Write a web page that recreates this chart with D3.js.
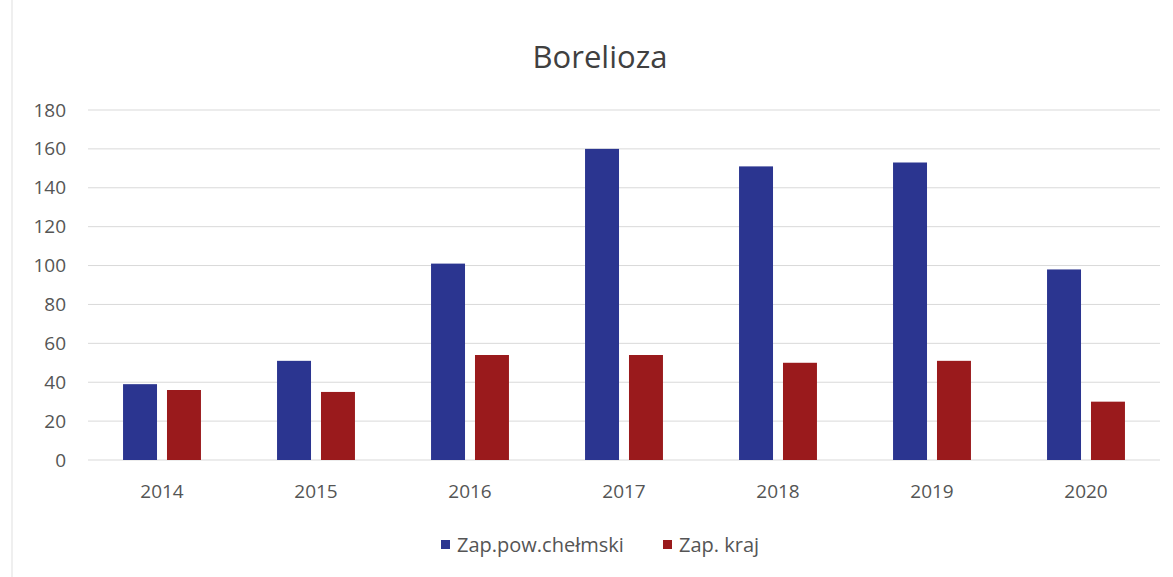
<!DOCTYPE html>
<html><head><meta charset="utf-8">
<script src="https://cdn.jsdelivr.net/npm/d3@7"></script>
<style>body{margin:0;background:#fff;}svg{display:block;}</style>
</head><body>
<svg id="c" width="1173" height="577"></svg>
<script>
const categories = ["2014","2015","2016","2017","2018","2019","2020"];
const seriesNames = ["Zap.pow.chełmski","Zap. kraj"];
const seriesBlue = [39, 51, 101, 160, 151, 153, 98];
const seriesRed = [36, 35, 54, 54, 50, 51, 30];
const yTicks = [0,20,40,60,80,100,120,140,160,180];
const colors = ["#2b3590","#9a1a1c"];

const svg = d3.select("#c");
const font = "'Open Sans', sans-serif";
const textColor = "#555555";

svg.append("rect").attr("x",12).attr("y",-2).attr("width",1175).attr("height",590)
  .attr("fill","#fff").attr("stroke","#e0e0e0");

const x0 = d3.scaleBand().domain(categories).range([85,1163]).paddingInner(0.494).paddingOuter(0.247);
const x1 = d3.scaleBand().domain(seriesNames).range([0,x0.bandwidth()]).paddingInner(0.227);
const y = d3.scaleLinear().domain([0,180]).range([460,110]);

// gridlines
svg.append("g").selectAll("line").data(yTicks).join("line")
  .attr("x1",88).attr("x2",1160)
  .attr("y1",d=>y(d)).attr("y2",d=>y(d))
  .attr("stroke","#d9d9d9").attr("stroke-width",1);

// y axis labels
const yAxis = d3.axisLeft(y).tickValues(yTicks).tickSize(0).tickPadding(0);
const ya = svg.append("g").attr("transform","translate(66,0)").call(yAxis);
ya.select(".domain").remove();
ya.selectAll("text").attr("font-family",font).attr("font-size",19).attr("fill",textColor);

// bars
const data = categories.map((c,i)=>({cat:c, vals:[seriesBlue[i], seriesRed[i]]}));
const groups = svg.append("g").selectAll("g").data(data).join("g")
  .attr("transform",d=>`translate(${x0(d.cat)},0)`);
groups.selectAll("rect").data(d=>d.vals.map((v,j)=>({name:seriesNames[j],v,j}))).join("rect")
  .attr("x",d=>x1(d.name)).attr("width",x1.bandwidth())
  .attr("y",d=>y(d.v)).attr("height",d=>y(0)-y(d.v))
  .attr("fill",d=>colors[d.j]);

// x axis labels
const xAxis = d3.axisBottom(x0).tickSize(0).tickPadding(0);
const xa = svg.append("g").attr("transform","translate(0,484)").call(xAxis);
xa.select(".domain").remove();
xa.selectAll("text").attr("font-family",font).attr("font-size",19).attr("fill",textColor);

// title
svg.append("text").attr("x",600).attr("y",68).attr("text-anchor","middle")
  .attr("font-family",font).attr("font-size",31).attr("fill","#404040").text("Borelioza");

// legend
const legendX = [441, 663];
const lg = svg.append("g").selectAll("g").data(seriesNames).join("g")
  .attr("transform",(d,i)=>`translate(${legendX[i]},540)`);
lg.append("rect").attr("width",9).attr("height",9).attr("fill",(d,i)=>colors[i]);
lg.append("text").attr("x",16).attr("y",12).attr("font-family",font).attr("font-size",20)
  .attr("fill",textColor).text(d=>d);
</script>
</body></html>
